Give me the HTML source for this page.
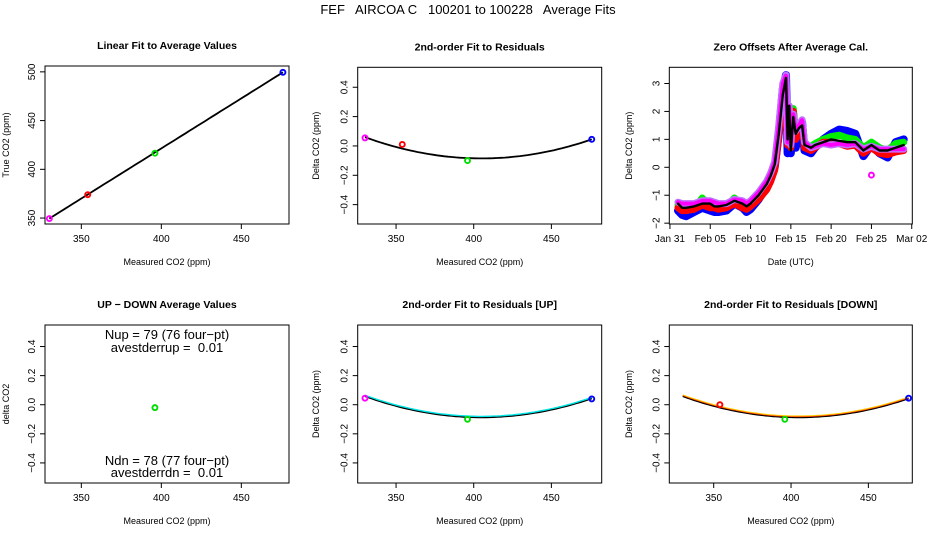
<!DOCTYPE html>
<html><head><meta charset="utf-8"><style>
html,body{margin:0;padding:0;background:#fff;}
svg{display:block;font-family:"Liberation Sans",sans-serif;}
</style></head><body>
<svg id="c" width="936" height="540" viewBox="0 0 936 540">
<text x="468" y="14" text-anchor="middle" font-size="13" style="white-space:pre" xml:space="preserve">FEF   AIRCOA C   100201 to 100228   Average Fits</text>
</svg>
<script>
// ---- data ----
const calX = [330, 354, 396, 476];
const calTrue = [349.5, 374, 416.5, 499.5];
const calColors = ['#ff00ff', '#ff0000', '#00dd00', '#0000ff'];
const resid = [0.055, 0.01, -0.1, 0.045];
const quadCoef = [2.58e-5, 405, -0.085]; // a*(x-h)^2 + k
const upDownX = [396];
const upDownY = [-0.02];
const residUp = [0.045, -0.1, 0.04];
const residUpX = [330, 396, 476];
const residDn = [0.0, -0.1, 0.045];
const residDnX = [354, 396, 476];
const days = [1,1.5,2,3,4,5,5.5,6,7,8,9,9.5,10,11,12,12.5,13,13.5,14,14.4,14.6,14.8,15,15.3,15.6,16,16.4,16.7,17.5,18,19,20,21,22,23,24,25,26,27,28,29];
const zBlack = [-1.3,-1.45,-1.45,-1.4,-1.3,-1.3,-1.4,-1.4,-1.35,-1.2,-1.3,-1.4,-1.3,-1.0,-0.6,-0.3,0.1,1.2,2.6,3.2,1.0,2.2,0.6,1.8,1.2,1.4,1.5,0.8,0.7,0.8,0.9,1.0,0.95,0.9,0.9,0.6,0.8,0.6,0.6,0.7,0.8];
const zBlue = [-1.55,-1.7,-1.75,-1.6,-1.45,-1.55,-1.6,-1.6,-1.55,-1.3,-1.45,-1.6,-1.5,-1.15,-0.7,-0.4,0,1.2,2.8,3.3,0.5,2.1,0.5,1.9,0.7,1.2,1.6,0.6,0.5,0.7,1.0,1.2,1.35,1.3,1.2,0.4,0.8,0.5,0.35,0.9,1.0];
const zRed = [-1.45,-1.55,-1.55,-1.5,-1.35,-1.45,-1.45,-1.5,-1.45,-1.3,-1.45,-1.5,-1.4,-1.15,-0.8,-0.5,-0.1,1.1,2.4,3.0,0.8,2.0,0.7,2.0,1.0,1.2,1.6,0.7,0.6,0.7,0.9,0.9,0.85,0.75,0.8,0.5,0.7,0.5,0.45,0.55,0.6];
const zGreen = [-1.35,-1.5,-1.55,-1.5,-1.1,-1.4,-1.45,-1.45,-1.4,-1.1,-1.35,-1.5,-1.4,-1.05,-0.7,-0.3,0.1,1.3,2.8,3.2,0.9,2.2,0.7,2.1,1.1,1.4,1.6,0.8,0.75,0.85,1.0,1.1,1.15,1.05,1.0,0.7,0.9,0.7,0.6,0.85,0.9];
const zMag = [-1.25,-1.3,-1.3,-1.3,-1.2,-1.2,-1.25,-1.3,-1.3,-1.15,-1.2,-1.3,-1.2,-0.9,-0.5,-0.2,0.2,1.5,3.0,3.3,0.9,2.2,0.8,1.9,1.3,1.5,1.7,0.9,0.7,0.75,0.85,0.8,0.85,0.8,0.85,0.65,0.75,0.65,0.65,0.65,0.65];
const outlierDay = [25];
const outlierVal = [-0.28];
const co2Ticks = [350, 400, 450];
const trueTicks = [350, 400, 450, 500];
const residTicks = [-0.4, -0.2, 0.0, 0.2, 0.4];
const residTickLabels = ['\u22120.4', '\u22120.2', '0.0', '0.2', '0.4'];
const dateTicks = [0, 5, 10, 15, 20, 25, 30];
const dateLabels = ['Jan 31', 'Feb 05', 'Feb 10', 'Feb 15', 'Feb 20', 'Feb 25', 'Mar 02'];
const zTicks = [-2, -1, 0, 1, 2, 3];
const zTickLabels = ['\u22122', '\u22121', '0', '1', '2', '3'];

// ---- drawing ----
const svg = document.getElementById('c');
const NS = 'http://www.w3.org/2000/svg';
function el(tag, attrs, parent) {
  const e = document.createElementNS(NS, tag);
  for (const k in attrs) e.setAttribute(k, attrs[k]);
  (parent || svg).appendChild(e);
  return e;
}
function lin(d0, d1, r0, r1) { return v => r0 + (v - d0) * (r1 - r0) / (d1 - d0); }

function panel(o) {
  const g = el('g', {});
  
  
  const x = lin(o.xd[0], o.xd[1], o.box[0], o.box[2]);
  const y = lin(o.yd[0], o.yd[1], o.box[3], o.box[1]);
  const t = el('text', {x: (o.box[0] + o.box[2]) / 2, y: o.box[1] - 17, 'text-anchor': 'middle', 'font-size': 10.5, 'font-weight': 'bold'}, g);
  t.textContent = o.title;
  
  
  const r = el('rect', {x: o.box[0], y: o.box[1], width: o.box[2] - o.box[0], height: o.box[3] - o.box[1], fill: 'none', stroke: '#000', 'stroke-width': 1}, g);
  
  
  o.xt.forEach((v, i) => {
    const px = x(v);
    el('line', {x1: px, x2: px, y1: o.box[3], y2: o.box[3] + 5, stroke: '#000'}, g);
    const tl = el('text', {x: px, y: o.box[3] + 18, 'text-anchor': 'middle', 'font-size': 10}, g);
    tl.textContent = o.xl ? o.xl[i] : v;
    
    
  });
  o.yt.forEach((v, i) => {
    const py = y(v);
    el('line', {x1: o.box[0], x2: o.box[0] - 5, y1: py, y2: py, stroke: '#000'}, g);
    const lx = o.box[0] - 10;
    const tl = el('text', {x: lx, y: py, 'text-anchor': 'middle', 'font-size': 10, transform: `rotate(-90 ${lx} ${py})`}, g);
    tl.textContent = o.yl ? o.yl[i] : v;
    
    
  });
  const xa = el('text', {x: (o.box[0] + o.box[2]) / 2, y: o.box[3] + 41, 'text-anchor': 'middle', 'font-size': 9}, g);
  xa.textContent = o.xlab;
  
  
  const cy = (o.box[1] + o.box[3]) / 2;
  const ya = el('text', {x: o.ylx, y: cy, 'text-anchor': 'middle', 'font-size': 9, transform: `rotate(-90 ${o.ylx} ${cy})`}, g);
  ya.textContent = o.ylab;
  
  
  return {g, x, y};
}
function pt(p, xv, yv, col, name) {
  const c = el('circle', {cx: p.x(xv), cy: p.y(yv), r: 2.5, fill: 'none', stroke: col, 'stroke-width': 1.9}, p.g);
  
  
}
function curve(p, x0, x1, f, col, w, name) {
  let d = '';
  for (let i = 0; i <= 60; i++) { const xv = x0 + (x1 - x0) * i / 60; d += (i ? 'L' : 'M') + p.x(xv).toFixed(1) + ',' + p.y(f(xv)).toFixed(1); }
  const pa = el('path', {d, fill: 'none', stroke: col, 'stroke-width': w}, p.g);
  
  
}
const quad = v => quadCoef[0] * (v - quadCoef[1]) ** 2 + quadCoef[2];

// Panel 1
const p1 = panel({name: 'linear-fit-panel', title: 'Linear Fit to Average Values', box: [45, 66, 289, 224], xd: [327.3, 479.8], yd: [343.9, 506], xt: co2Ticks, yt: trueTicks, xlab: 'Measured CO2 (ppm)', ylab: 'True CO2 (ppm)', ylx: 9});
const slope = (calTrue[3] - calTrue[0]) / (calX[3] - calX[0]);
curve(p1, calX[0], calX[3], v => calTrue[0] + slope * (v - calX[0]), '#000', 1.8, 'linear-fit-line');
calX.forEach((v, i) => pt(p1, v, calTrue[i], calColors[i], 'calibration-point'));

// Panel 2
const p2 = panel({name: 'residual-fit-panel', title: '2nd-order Fit to Residuals', box: [357.7, 67.3, 601.7, 224], xd: [325.3, 482.4], yd: [-0.532, 0.536], xt: co2Ticks, yt: residTicks, yl: residTickLabels, xlab: 'Measured CO2 (ppm)', ylab: 'Delta CO2 (ppm)', ylx: 319});
curve(p2, 330, 476, quad, '#000', 1.8, 'quadratic-fit-curve');
calX.forEach((v, i) => pt(p2, v, resid[i], calColors[i], 'residual-point'));

// Panel 3
const p3 = panel({name: 'zero-offsets-panel', title: 'Zero Offsets After Average Cal.', box: [669.3, 67.3, 912.3, 224], xd: [-0.08, 30.07], yd: [-2.03, 3.58], xt: dateTicks, xl: dateLabels, yt: zTicks, yl: zTickLabels, xlab: 'Date (UTC)', ylab: 'Delta CO2 (ppm)', ylx: 632});
function band(arr, col, w, name, dash) {
  let d = '';
  days.forEach((dv, i) => { d += (i ? 'L' : 'M') + p3.x(dv).toFixed(1) + ',' + p3.y(arr[i]).toFixed(1); });
  const pa = el('path', {d, fill: 'none', stroke: col, 'stroke-width': w, 'stroke-linejoin': 'round', 'stroke-linecap': 'round'}, p3.g);
  if (dash) pa.setAttribute('stroke-dasharray', dash);
  
  
}
band(zBlue, '#0000ff', 8, 'blue-series');
band(zGreen, '#00ee00', 7, 'green-series');
band(zRed, '#ff0000', 7, 'red-series');
band(zMag, '#c070ff', 7, 'magenta-series');
band(zMag, '#ff00ff', 4, 'magenta-series-hatch', '2 2');
band(zBlack, '#000', 2.4, 'black-mean-series');
outlierDay.forEach((d, i) => pt(p3, d, outlierVal[i], '#ff00ff', 'outlier-point'));

// Panel 4
const p4 = panel({name: 'up-down-panel', title: 'UP \u2212 DOWN Average Values', box: [45, 325, 289, 483], xd: [327.3, 479.8], yd: [-0.538, 0.548], xt: co2Ticks, yt: residTicks, yl: residTickLabels, xlab: 'Measured CO2 (ppm)', ylab: 'delta CO2', ylx: 9});
upDownX.forEach((v, i) => pt(p4, v, upDownY[i], '#00dd00', 'up-down-point'));
[['Nup = 79 (76 four\u2212pt)', 339, 'nup-annotation'], ['avestderrup =  0.01', 352, 'avestderrup-annotation'], ['Ndn = 78 (77 four\u2212pt)', 465, 'ndn-annotation'], ['avestderrdn =  0.01', 477, 'avestderrdn-annotation']].forEach(a => {
  const t = el('text', {x: 167, y: a[1], 'text-anchor': 'middle', 'font-size': 13, style: 'white-space:pre'}, p4.g);
  t.textContent = a[0];
  
  
});

// Panel 5
const p5 = panel({name: 'residual-up-panel', title: '2nd-order Fit to Residuals [UP]', box: [357.7, 325, 601.7, 483], xd: [325.3, 482.4], yd: [-0.538, 0.548], xt: co2Ticks, yt: residTicks, yl: residTickLabels, xlab: 'Measured CO2 (ppm)', ylab: 'Delta CO2 (ppm)', ylx: 319});
curve(p5, 330, 476, quad, '#000', 2.2, 'average-fit-curve');
curve(p5, 330, 476, v => quad(v) + 0.005, '#00e5e5', 1.4, 'up-fit-curve');
residUpX.forEach((v, i) => pt(p5, v, residUp[i], [calColors[0], calColors[2], calColors[3]][i], 'up-residual-point'));

// Panel 6
const p6 = panel({name: 'residual-down-panel', title: '2nd-order Fit to Residuals [DOWN]', box: [669.3, 325, 912.3, 483], xd: [321.3, 478.4], yd: [-0.538, 0.548], xt: co2Ticks, yt: residTicks, yl: residTickLabels, xlab: 'Measured CO2 (ppm)', ylab: 'Delta CO2 (ppm)', ylx: 632});
curve(p6, 330, 476, quad, '#000', 2.2, 'average-fit-curve');
curve(p6, 330, 476, v => quad(v) + 0.004, '#ff3300', 1.2, 'down-fit-curve-red');
curve(p6, 330, 476, v => quad(v) + 0.008, '#ffcc00', 1, 'down-fit-curve-yellow');
residDnX.forEach((v, i) => pt(p6, v, residDn[i], [calColors[1], calColors[2], calColors[3]][i], 'down-residual-point'));
</script>
</body></html>
